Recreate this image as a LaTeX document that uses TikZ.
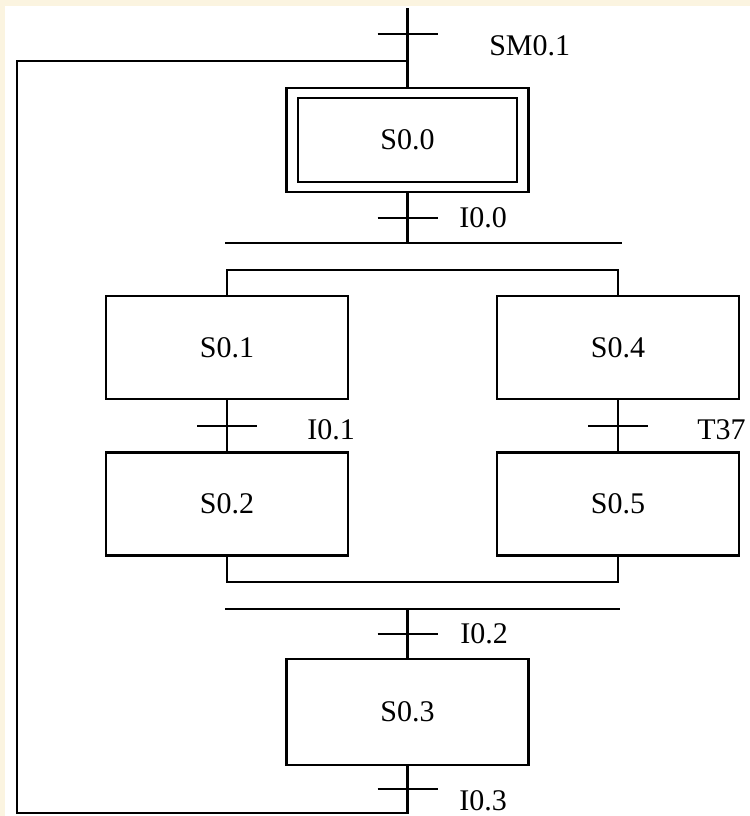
\documentclass[tikz,border=0pt]{standalone}
\usepackage{fontspec}
\setmainfont{Liberation Serif}
\usetikzlibrary{positioning}
\definecolor{paper}{HTML}{FBF4E0}

\begin{document}
\begin{tikzpicture}[x=0.5pt,y=-0.5pt,line width=1.3pt,
    font=\fontsize{15}{18}\selectfont,
    stepbox/.style={draw,minimum width=121pt,minimum height=51.5pt,inner sep=0pt},
    lab/.style={anchor=west,inner sep=0pt}]
    % page
    \fill[paper] (0,0) rectangle (750,816);
    \fill[white] (5,6) rectangle (750,816);
    \useasboundingbox (0,0) rectangle (750,816);
    % steps
    \node[stepbox,minimum height=52pt] (S00) at (407.5,140) {};
    \node[draw,minimum width=109.5pt,minimum height=42pt] (S00in) at (S00) {S0.0};
    \node[stepbox] (S01) at (227,347.5) {S0.1};
    \node[stepbox] (S02) at (227,504) {S0.2};
    \node[stepbox] (S04) at (618,347.5) {S0.4};
    \node[stepbox] (S05) at (618,504) {S0.5};
    \node[stepbox,minimum height=53pt] (S03) at (407.5,712) {S0.3};
    % transitions
    \coordinate (top) at (407.5,8);
    \coordinate (t0) at (407.5,34);
    \coordinate (t1) at (407.5,218);
    \coordinate (t2) at (227,426);
    \coordinate (t3) at (618,426);
    \coordinate (t4) at (407.5,634);
    \coordinate (t5) at (407.5,789);
    \foreach \t in {t0,t1,t2,t3,t4,t5}
    {
        \draw ([xshift=-15pt]\t)--([xshift=15pt]\t);
    }
    \node[lab] (l0) at (488,46) {SM0.1};
    \node[lab] (l1) at (458,218) {I0.0};
    \node[lab] (l2) at (306,430) {I0.1};
    \node[lab] (l3) at (696,430) {T37};
    \node[lab] (l4) at (459,634) {I0.2};
    \node[lab] (l5) at (458,801) {I0.3};
    % initial step and loop back
    \draw (top)--(S00.north);
    \coordinate (back) at (407.5,813);
    \draw (S03.south)--(back)-|(17,61)--(407.5,61);
    % divergence
    \coordinate (d0) at (407.5,243);
    \draw (S00.south)--(d0);
    \draw (225,243)--(622,243);
    \draw (S01.north)|-(S04.north|-0,270)--(S04.north);
    % left and right branches
    \draw (S01.south)--(S02.north);
    \draw (S04.south)--(S05.north);
    % convergence
    \draw (S02.south)|-(S05.south|-0,582)--(S05.south);
    \draw (225,609)--(620,609);
    \draw (407.5,609)--(S03.north);
\end{tikzpicture}
\end{document}
